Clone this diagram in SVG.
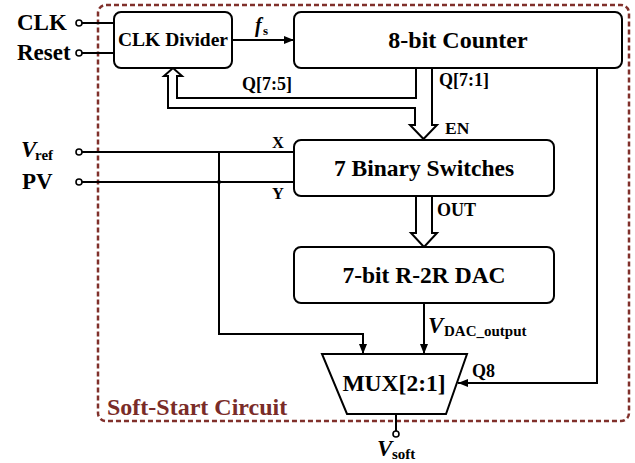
<svg xmlns="http://www.w3.org/2000/svg" width="635" height="463" viewBox="0 0 635 463">
<defs>
<marker id="ah" viewBox="0 0 10 8" refX="10" refY="4" markerWidth="10" markerHeight="8" markerUnits="userSpaceOnUse" orient="auto">
<path d="M0,0 L10,4 L0,8 Z" fill="#000"/>
</marker>
</defs>
<style>
.box{fill:#fff;stroke:#000;stroke-width:2}
.w{fill:none;stroke:#000;stroke-width:2}
.t{font-weight:bold;fill:#000}
.pin{fill:#fff;stroke:#000;stroke-width:1.6}
</style>
<rect x="98" y="5" width="531" height="416" rx="8" fill="none" stroke="#80302b" stroke-width="2.5" stroke-dasharray="5,3"/>
<g font-family="Liberation Serif, DejaVu Serif, serif">
<text class="t" x="107" y="415" font-size="24" style="fill:#7a2c28">Soft-Start Circuit</text>
</g>

<g id="connectors">
<line class="w" x1="82" y1="23" x2="114" y2="23"/>
<line class="w" x1="82" y1="53" x2="114" y2="53"/>
<line class="w" x1="232" y1="40" x2="294" y2="40" marker-end="url(#ah)"/>
<path class="w" d="M416,68 V98 H177 V76 H182 L173,68 L164,76 H168 V108 H415 V125 H410 L423.5,139 L437,125 H432 V68" stroke-linejoin="miter"/>
<path class="w" d="M416,196 V233 H411 L424,247 L437,233 H432 V196"/>
<line class="w" x1="82" y1="152" x2="294" y2="152"/>
<line class="w" x1="82" y1="182" x2="294" y2="182"/>
<path class="w" d="M219,152 V334 H363 V354" marker-end="url(#ah)"/>
<circle cx="219" cy="182" r="2" fill="#000"/>
<line class="w" x1="424" y1="303" x2="424" y2="354" marker-end="url(#ah)"/>
<path class="w" d="M597,68 V383 H458" marker-end="url(#ah)"/>
<line class="w" x1="396" y1="414" x2="396" y2="431"/>
</g>

<g id="pins">
<circle class="pin" cx="79" cy="23" r="3"/>
<circle class="pin" cx="79" cy="53" r="3"/>
<circle class="pin" cx="79" cy="152" r="3"/>
<circle class="pin" cx="79" cy="182" r="3"/>
<circle class="pin" cx="396" cy="434" r="3"/>
</g>

<g font-family="Liberation Serif, DejaVu Serif, serif">
<g id="clk-divider">
<rect class="box" x="114" y="12" width="118" height="56" rx="7"/>
<text class="t" x="173" y="46" font-size="19.5" text-anchor="middle">CLK Divider</text>
</g>
<g id="counter">
<rect class="box" x="294" y="12" width="328" height="56" rx="7"/>
<text class="t" x="458" y="48" font-size="24" text-anchor="middle">8-bit Counter</text>
</g>
<g id="switches">
<rect class="box" x="294" y="140" width="260" height="56" rx="7"/>
<text class="t" x="424" y="176" font-size="23.5" text-anchor="middle">7 Binary Switches</text>
</g>
<g id="dac">
<rect class="box" x="294" y="247" width="260" height="56" rx="7"/>
<text class="t" x="424" y="283" font-size="23.5" text-anchor="middle">7-bit R-2R DAC</text>
</g>
<g id="mux">
<path class="box" d="M322,354 H467 L446,414 H347 Z"/>
<text class="t" x="394" y="391" font-size="23.5" text-anchor="middle">MUX[2:1]</text>
</g>

<g id="labels">
<text class="t" x="17" y="30" font-size="23">CLK</text>
<text class="t" x="17" y="60" font-size="23">Reset</text>
<text class="t" x="21" y="157" font-size="23" font-style="italic">V</text>
<text class="t" x="35" y="160" font-size="15">ref</text>
<text class="t" x="22" y="189" font-size="23">PV</text>
<text class="t" x="272" y="148" font-size="16.5">X</text>
<text class="t" x="272" y="199" font-size="16.5">Y</text>
<text class="t" x="255" y="32" font-size="20" font-style="italic">f</text>
<text class="t" x="263" y="35" font-size="13">s</text>
<text class="t" x="242" y="90" font-size="18">Q[7:5]</text>
<text class="t" x="439" y="86" font-size="18">Q[7:1]</text>
<text class="t" x="445" y="134" font-size="17.5">EN</text>
<text class="t" x="437" y="216" font-size="18">OUT</text>
<text class="t" x="428" y="333" font-size="23" font-style="italic">V</text>
<text class="t" x="444" y="336" font-size="15">DAC_output</text>
<text class="t" x="472" y="377" font-size="18">Q8</text>
<text class="t" x="377" y="456" font-size="23" font-style="italic">V</text>
<text class="t" x="392" y="459" font-size="15">soft</text>
</g>
</g>
</svg>
